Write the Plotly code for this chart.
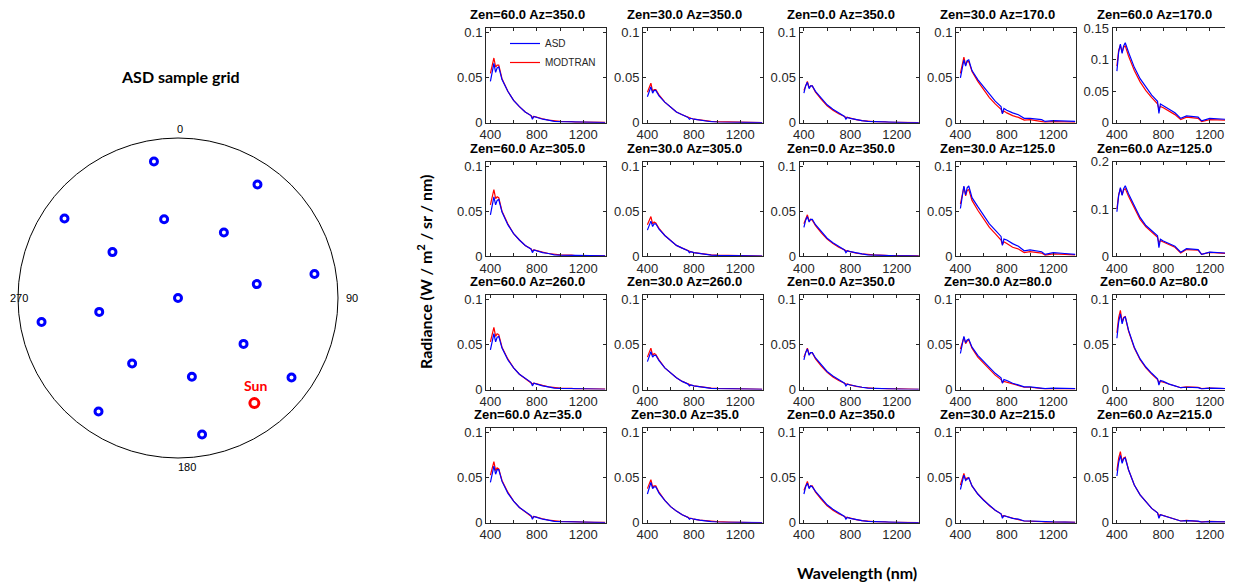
import numpy as np
import plotly.graph_objects as go

# ---------------- data ----------------
# ASD sample grid (zenith, azimuth in degrees)
grid_zen = [60, 60, 60, 30, 30, 30, 60, 30, 0, 30, 60, 30, 30, 30, 60, 60, 60]
grid_az = [350, 35, 305, 350, 35, 305, 80, 80, 350, 260, 260, 125, 215, 170, 125, 215, 170]
sun_zen = 54.3
sun_az = 144.0
compass_labels = ["0", "90", "180", "270"]

# wavelength grid (nm)
wl = [400, 415, 430, 445, 458, 472, 500, 550, 600, 650, 700, 750, 762, 775,
      800, 850, 900, 950, 1000, 1100, 1130, 1200, 1300, 1390]

# panel geometry labels (row-major, 4 rows x 5 columns)
panel_zen = [60, 30, 0, 30, 60,
             60, 30, 0, 30, 60,
             60, 30, 0, 30, 60,
             60, 30, 0, 30, 60]
panel_az = [350, 350, 350, 170, 170,
            305, 305, 350, 125, 125,
            260, 260, 350, 80, 80,
            35, 35, 350, 215, 215]
panel_ymax = [0.105, 0.105, 0.105, 0.105, 0.15,
              0.105, 0.105, 0.105, 0.105, 0.2,
              0.105, 0.105, 0.105, 0.105, 0.105,
              0.105, 0.105, 0.105, 0.105, 0.105]
yticks_01 = [0, 0.05, 0.1]
ylabels_01 = ["0", "0.05", "0.1"]
yticks_015 = [0, 0.05, 0.1, 0.15]
ylabels_015 = ["0", "0.05", "0.1", "0.15"]
yticks_02 = [0, 0.1, 0.2]
ylabels_02 = ["0", "0.1", "0.2"]
xticks = [400, 800, 1200]
xlabels = ["400", "800", "1200"]
xminor = [600, 1000]

# radiance spectra (W / m2 / sr / nm)
asd_60_350 = [0.046, 0.058, 0.066, 0.056, 0.061, 0.062, 0.048, 0.035, 0.025, 0.018, 0.012, 0.008, 0.004, 0.007, 0.006, 0.004, 0.003, 0.0015, 0.0012, 0.0009, 0.0004, 0.0006, 0.0004, 0.0003]
mod_60_350 = [0.055, 0.064, 0.072, 0.062, 0.064, 0.064, 0.049, 0.035, 0.025, 0.018, 0.012, 0.008, 0.006, 0.007, 0.006, 0.0045, 0.003, 0.002, 0.0015, 0.0012, 0.0008, 0.0008, 0.0005, 0.0004]
asd_30_350 = [0.029, 0.036, 0.040, 0.033, 0.036, 0.036, 0.030, 0.023, 0.017, 0.012, 0.009, 0.006, 0.004, 0.005, 0.004, 0.003, 0.002, 0.0012, 0.0009, 0.0006, 0.0003, 0.0004, 0.0003, 0.0002]
mod_30_350 = [0.034, 0.040, 0.044, 0.035, 0.037, 0.037, 0.031, 0.023, 0.017, 0.012, 0.009, 0.006, 0.005, 0.005, 0.004, 0.003, 0.0022, 0.0015, 0.0012, 0.0008, 0.0005, 0.0005, 0.0003, 0.0002]
asd_0_a = [0.033, 0.041, 0.045, 0.038, 0.041, 0.041, 0.035, 0.027, 0.020, 0.015, 0.011, 0.007, 0.004, 0.006, 0.005, 0.0035, 0.0025, 0.0015, 0.0012, 0.0008, 0.0004, 0.0005, 0.0003, 0.0002]
mod_0_a = [0.036, 0.042, 0.046, 0.039, 0.041, 0.041, 0.034, 0.026, 0.019, 0.014, 0.010, 0.007, 0.006, 0.006, 0.005, 0.0035, 0.0025, 0.0017, 0.0014, 0.0010, 0.0006, 0.0006, 0.0004, 0.0003]
asd_30_170 = [0.050, 0.062, 0.070, 0.063, 0.069, 0.070, 0.058, 0.048, 0.040, 0.031, 0.024, 0.018, 0.010, 0.016, 0.014, 0.011, 0.009, 0.005, 0.005, 0.0035, 0.0015, 0.0025, 0.002, 0.0015]
mod_30_170 = [0.055, 0.066, 0.073, 0.064, 0.068, 0.068, 0.057, 0.046, 0.037, 0.028, 0.021, 0.015, 0.011, 0.013, 0.011, 0.008, 0.006, 0.003, 0.0035, 0.002, 0.0008, 0.0013, 0.001, 0.0008]
asd_60_170 = [0.082, 0.112, 0.125, 0.110, 0.122, 0.127, 0.112, 0.088, 0.070, 0.056, 0.044, 0.034, 0.015, 0.030, 0.027, 0.021, 0.016, 0.007, 0.011, 0.009, 0.003, 0.007, 0.006, 0.005]
mod_60_170 = [0.090, 0.115, 0.123, 0.112, 0.120, 0.122, 0.106, 0.083, 0.065, 0.051, 0.040, 0.030, 0.022, 0.026, 0.024, 0.018, 0.013, 0.005, 0.009, 0.007, 0.002, 0.005, 0.005, 0.004]

asd_60_305 = [0.046, 0.058, 0.066, 0.057, 0.062, 0.063, 0.049, 0.035, 0.025, 0.018, 0.012, 0.008, 0.004, 0.007, 0.006, 0.004, 0.003, 0.0015, 0.0012, 0.0009, 0.0004, 0.0006, 0.0004, 0.0003]
mod_60_305 = [0.057, 0.066, 0.074, 0.064, 0.066, 0.065, 0.050, 0.036, 0.025, 0.018, 0.012, 0.008, 0.006, 0.007, 0.006, 0.0045, 0.003, 0.002, 0.0015, 0.0012, 0.0008, 0.0008, 0.0005, 0.0004]
asd_30_305 = [0.029, 0.035, 0.039, 0.033, 0.036, 0.036, 0.030, 0.023, 0.017, 0.012, 0.009, 0.006, 0.004, 0.005, 0.004, 0.003, 0.002, 0.0012, 0.0009, 0.0006, 0.0003, 0.0004, 0.0003, 0.0002]
mod_30_305 = [0.035, 0.040, 0.044, 0.036, 0.038, 0.037, 0.031, 0.023, 0.017, 0.012, 0.009, 0.006, 0.005, 0.005, 0.004, 0.003, 0.0022, 0.0015, 0.0012, 0.0008, 0.0005, 0.0005, 0.0003, 0.0002]
asd_0_b = [0.032, 0.040, 0.044, 0.038, 0.041, 0.041, 0.035, 0.027, 0.020, 0.015, 0.011, 0.007, 0.004, 0.006, 0.005, 0.0035, 0.0025, 0.0015, 0.0012, 0.0008, 0.0004, 0.0005, 0.0003, 0.0002]
mod_0_b = [0.036, 0.042, 0.046, 0.039, 0.041, 0.040, 0.034, 0.026, 0.019, 0.014, 0.010, 0.007, 0.006, 0.006, 0.005, 0.0035, 0.0025, 0.0017, 0.0014, 0.0010, 0.0006, 0.0006, 0.0004, 0.0003]
asd_30_125 = [0.053, 0.068, 0.078, 0.068, 0.076, 0.078, 0.065, 0.055, 0.046, 0.036, 0.029, 0.022, 0.012, 0.019, 0.018, 0.014, 0.011, 0.006, 0.007, 0.005, 0.002, 0.004, 0.003, 0.002]
mod_30_125 = [0.058, 0.070, 0.077, 0.067, 0.073, 0.074, 0.062, 0.051, 0.042, 0.032, 0.025, 0.018, 0.013, 0.016, 0.014, 0.010, 0.008, 0.004, 0.005, 0.0035, 0.0012, 0.0025, 0.002, 0.0015]
asd_60_125 = [0.094, 0.128, 0.145, 0.129, 0.143, 0.149, 0.132, 0.106, 0.082, 0.065, 0.053, 0.043, 0.018, 0.036, 0.032, 0.026, 0.021, 0.0085, 0.016, 0.014, 0.004, 0.0085, 0.007, 0.006]
mod_60_125 = [0.100, 0.130, 0.143, 0.130, 0.140, 0.143, 0.127, 0.102, 0.078, 0.062, 0.050, 0.040, 0.028, 0.033, 0.030, 0.024, 0.019, 0.007, 0.014, 0.013, 0.004, 0.008, 0.007, 0.005]

asd_60_260 = [0.044, 0.055, 0.062, 0.053, 0.058, 0.059, 0.046, 0.033, 0.024, 0.017, 0.012, 0.008, 0.004, 0.007, 0.006, 0.004, 0.003, 0.0015, 0.0012, 0.0009, 0.0004, 0.0006, 0.0004, 0.0003]
mod_60_260 = [0.053, 0.062, 0.069, 0.059, 0.062, 0.061, 0.047, 0.034, 0.024, 0.017, 0.012, 0.008, 0.006, 0.007, 0.006, 0.0045, 0.003, 0.002, 0.0015, 0.0012, 0.0008, 0.0008, 0.0005, 0.0004]
asd_30_260 = [0.031, 0.038, 0.042, 0.036, 0.038, 0.038, 0.032, 0.024, 0.018, 0.013, 0.009, 0.006, 0.004, 0.005, 0.004, 0.003, 0.002, 0.0013, 0.0009, 0.0006, 0.0003, 0.0004, 0.0003, 0.0002]
mod_30_260 = [0.036, 0.042, 0.046, 0.038, 0.040, 0.039, 0.033, 0.024, 0.018, 0.013, 0.009, 0.006, 0.005, 0.005, 0.004, 0.003, 0.0022, 0.0015, 0.0012, 0.0008, 0.0005, 0.0005, 0.0003, 0.0002]
asd_0_c = [0.033, 0.041, 0.045, 0.038, 0.041, 0.041, 0.035, 0.027, 0.020, 0.015, 0.011, 0.007, 0.004, 0.006, 0.005, 0.0035, 0.0025, 0.0015, 0.0012, 0.0008, 0.0004, 0.0005, 0.0003, 0.0002]
mod_0_c = [0.036, 0.042, 0.046, 0.039, 0.041, 0.041, 0.034, 0.026, 0.019, 0.014, 0.010, 0.007, 0.006, 0.006, 0.005, 0.0035, 0.0025, 0.0017, 0.0014, 0.0010, 0.0006, 0.0006, 0.0004, 0.0003]
asd_30_80 = [0.040, 0.052, 0.059, 0.052, 0.055, 0.056, 0.047, 0.038, 0.031, 0.024, 0.018, 0.013, 0.007, 0.011, 0.010, 0.007, 0.005, 0.003, 0.003, 0.002, 0.001, 0.0015, 0.0012, 0.001]
mod_30_80 = [0.045, 0.053, 0.058, 0.051, 0.054, 0.055, 0.046, 0.036, 0.029, 0.022, 0.016, 0.011, 0.008, 0.009, 0.008, 0.006, 0.004, 0.0025, 0.0025, 0.0015, 0.0007, 0.001, 0.0008, 0.0006]
asd_60_80 = [0.057, 0.075, 0.084, 0.073, 0.079, 0.081, 0.066, 0.047, 0.034, 0.025, 0.018, 0.012, 0.005, 0.010, 0.009, 0.006, 0.004, 0.002, 0.0025, 0.002, 0.0008, 0.0015, 0.0012, 0.001]
mod_60_80 = [0.063, 0.080, 0.088, 0.075, 0.080, 0.081, 0.065, 0.046, 0.033, 0.024, 0.017, 0.011, 0.008, 0.009, 0.008, 0.006, 0.004, 0.002, 0.003, 0.0025, 0.001, 0.0015, 0.001, 0.0008]

asd_60_35 = [0.045, 0.056, 0.063, 0.054, 0.059, 0.059, 0.046, 0.033, 0.024, 0.017, 0.012, 0.008, 0.004, 0.007, 0.006, 0.004, 0.003, 0.0015, 0.0012, 0.0009, 0.0004, 0.0006, 0.0004, 0.0003]
mod_60_35 = [0.053, 0.061, 0.068, 0.058, 0.061, 0.060, 0.047, 0.034, 0.024, 0.017, 0.012, 0.008, 0.006, 0.007, 0.006, 0.0045, 0.003, 0.002, 0.0016, 0.0013, 0.0009, 0.0008, 0.0005, 0.0004]
asd_30_35 = [0.032, 0.040, 0.045, 0.038, 0.040, 0.040, 0.033, 0.025, 0.018, 0.013, 0.009, 0.006, 0.004, 0.005, 0.004, 0.003, 0.002, 0.0013, 0.0009, 0.0006, 0.0003, 0.0004, 0.0003, 0.0002]
mod_30_35 = [0.038, 0.044, 0.048, 0.040, 0.041, 0.041, 0.034, 0.025, 0.018, 0.013, 0.009, 0.006, 0.005, 0.005, 0.004, 0.003, 0.0022, 0.0015, 0.0012, 0.0008, 0.0005, 0.0005, 0.0003, 0.0002]
asd_0_d = [0.032, 0.040, 0.044, 0.038, 0.041, 0.040, 0.035, 0.027, 0.020, 0.015, 0.011, 0.007, 0.004, 0.006, 0.005, 0.0035, 0.0025, 0.0015, 0.0012, 0.0008, 0.0004, 0.0005, 0.0003, 0.0002]
mod_0_d = [0.036, 0.042, 0.046, 0.039, 0.041, 0.041, 0.034, 0.026, 0.019, 0.014, 0.010, 0.007, 0.006, 0.006, 0.005, 0.0035, 0.0025, 0.0017, 0.0014, 0.0010, 0.0006, 0.0006, 0.0004, 0.0003]
asd_30_215 = [0.037, 0.047, 0.053, 0.047, 0.049, 0.050, 0.041, 0.032, 0.025, 0.019, 0.014, 0.010, 0.005, 0.008, 0.007, 0.005, 0.004, 0.002, 0.002, 0.0015, 0.0006, 0.001, 0.0008, 0.0006]
mod_30_215 = [0.042, 0.050, 0.055, 0.048, 0.050, 0.050, 0.041, 0.032, 0.025, 0.019, 0.014, 0.010, 0.007, 0.008, 0.007, 0.005, 0.0035, 0.002, 0.002, 0.0013, 0.0006, 0.0009, 0.0007, 0.0005]
asd_60_215 = [0.052, 0.067, 0.075, 0.066, 0.071, 0.072, 0.059, 0.042, 0.031, 0.023, 0.016, 0.011, 0.005, 0.009, 0.008, 0.006, 0.004, 0.002, 0.0025, 0.0018, 0.0007, 0.0012, 0.001, 0.0008]
mod_60_215 = [0.058, 0.072, 0.079, 0.068, 0.072, 0.073, 0.059, 0.042, 0.031, 0.023, 0.016, 0.011, 0.008, 0.009, 0.008, 0.006, 0.004, 0.002, 0.0028, 0.002, 0.001, 0.0015, 0.001, 0.0008]

panel_asd = [asd_60_350, asd_30_350, asd_0_a, asd_30_170, asd_60_170,
             asd_60_305, asd_30_305, asd_0_b, asd_30_125, asd_60_125,
             asd_60_260, asd_30_260, asd_0_c, asd_30_80, asd_60_80,
             asd_60_35, asd_30_35, asd_0_d, asd_30_215, asd_60_215]
panel_mod = [mod_60_350, mod_30_350, mod_0_a, mod_30_170, mod_60_170,
             mod_60_305, mod_30_305, mod_0_b, mod_30_125, mod_60_125,
             mod_60_260, mod_30_260, mod_0_c, mod_30_80, mod_60_80,
             mod_60_35, mod_30_35, mod_0_d, mod_30_215, mod_60_215]

# ---------------- figure ----------------
# the page body adds an 8 px margin, so the figure is drawn 8 px in from the window corner
OFF = 8
W, H = 1233 - OFF, 582 - OFF


def px(X):
    return (X - OFF) / W


def py(Y):
    return 1 - (Y - OFF) / H


BLUE = "#0000ff"
RED = "#ff0000"
AX = "#262626"
HELV = "Liberation Sans, Arial, sans-serif"
TICKFONT = dict(family=HELV, size=13, color=AX)
CAL = "Lato, Open Sans, sans-serif"

fig = go.Figure()

# polar sample grid
fig.add_trace(go.Scatterpolar(
    r=np.sin(np.radians(grid_zen)), theta=grid_az, mode="markers",
    marker=dict(symbol="circle-open", size=7, color=BLUE, line=dict(width=3, color=BLUE)),
    showlegend=False, subplot="polar", hoverinfo="skip"))
fig.add_trace(go.Scatterpolar(
    r=[np.sin(np.radians(sun_zen))], theta=[sun_az], mode="markers",
    marker=dict(symbol="circle-open", size=9, color=RED, line=dict(width=3, color=RED)),
    showlegend=False, subplot="polar", hoverinfo="skip"))

col_left = [486, 643, 799.5, 956, 1112.5]
col_w = 119.5
row_top = [28.3, 161.7, 295.0, 428.3]
row_h = 94.5

layout_axes = {}
annotations = []
for i in range(20):
    r, c = divmod(i, 5)
    n = i + 1
    xs = "x" if n == 1 else f"x{n}"
    ys = "y" if n == 1 else f"y{n}"
    xname = "xaxis" if n == 1 else f"xaxis{n}"
    yname = "yaxis" if n == 1 else f"yaxis{n}"
    x0 = px(col_left[c])
    x1 = px(col_left[c] + col_w)
    y1 = py(row_top[r])
    y0 = py(row_top[r] + row_h)
    fig.add_trace(go.Scatter(x=wl, y=panel_mod[i], mode="lines", line=dict(color=RED, width=1.2),
                             name="MODTRAN", xaxis=xs, yaxis=ys, showlegend=(i == 0), legendrank=2))
    fig.add_trace(go.Scatter(x=wl, y=panel_asd[i], mode="lines", line=dict(color=BLUE, width=1.2),
                             name="ASD", xaxis=xs, yaxis=ys, showlegend=(i == 0), legendrank=1))
    ymax = panel_ymax[i]
    if ymax == 0.15:
        yt, yl = yticks_015, ylabels_015
    elif ymax == 0.2:
        yt, yl = yticks_02, ylabels_02
    else:
        yt, yl = yticks_01, ylabels_01
    layout_axes[xname] = dict(domain=[x0, x1], anchor=ys, range=[362, 1392], tickvals=xticks, ticktext=xlabels,
                              ticks="inside", ticklen=3, tickcolor=AX, showline=True, linecolor=AX, linewidth=1,
                              minor=dict(tickvals=xminor, ticks="inside", ticklen=3, tickcolor=AX, showgrid=False),
                              mirror="ticks", showgrid=False, zeroline=False, tickfont=TICKFONT,
                              fixedrange=True, automargin=False)
    layout_axes[yname] = dict(domain=[y0, y1], anchor=xs, range=[0, ymax], tickvals=yt, ticktext=yl,
                              ticks="inside", ticklen=3, tickcolor=AX, showline=True, linecolor=AX, linewidth=1,
                              mirror="ticks", showgrid=False, zeroline=False, tickfont=TICKFONT,
                              fixedrange=True, automargin=False)
    annotations.append(dict(
        text=f"<b>Zen={panel_zen[i]:.1f} Az={panel_az[i]:.1f}</b>",
        x=(x0 + x1) / 2, y=y1, xref="paper", yref="paper", xanchor="center", yanchor="bottom",
        xshift=-18, yshift=4, showarrow=False, font=dict(family=HELV, size=13, color="black")))

# compass labels around the sample-grid circle
compass_xy = [(180, 129), (352, 298), (187, 467), (19, 298)]
for lab, (cx, cy) in zip(compass_labels, compass_xy):
    annotations.append(dict(text=lab, x=px(cx), y=py(cy), xref="paper", yref="paper",
                            xanchor="center", yanchor="middle", showarrow=False,
                            font=dict(family=HELV, size=11, color="black")))

annotations += [
    dict(text="<b>ASD sample grid</b>", x=px(180), y=py(76), xref="paper", yref="paper",
         xanchor="center", yanchor="middle", showarrow=False, font=dict(family=CAL, size=16, color="black")),
    dict(text="<b>Sun</b>", x=px(255), y=py(385), xref="paper", yref="paper",
         xanchor="center", yanchor="middle", showarrow=False, font=dict(family=CAL, size=14, color=RED)),
    dict(text="<b>Wavelength (nm)</b>", x=px(857), y=py(572), xref="paper", yref="paper",
         xanchor="center", yanchor="middle", showarrow=False, font=dict(family=CAL, size=16, color="black")),
    dict(text="<b>Radiance (W / m<sup>2</sup> / sr / nm)</b>", x=px(424), y=py(272), xref="paper", yref="paper",
         xanchor="center", yanchor="middle", textangle=-90, showarrow=False,
         font=dict(family=CAL, size=16, color="black")),
]

fig.update_layout(
    width=W, height=H, margin=dict(l=0, r=0, t=0, b=0, pad=0, autoexpand=False),
    paper_bgcolor="white", plot_bgcolor="white",
    polar=dict(
        domain=dict(x=[px(18), px(338)], y=[py(458), py(138)]),
        bgcolor="white",
        radialaxis=dict(visible=False, range=[0, 1]),
        angularaxis=dict(rotation=90, direction="clockwise", showticklabels=False,
                         showgrid=False, ticks="",
                         showline=True, linecolor="black", linewidth=1),
    ),
    legend=dict(x=px(505), y=py(29), xanchor="left", yanchor="top", bgcolor="rgba(0,0,0,0)",
                font=dict(family=HELV, size=10, color=AX),
                itemwidth=30, tracegroupgap=0),
    annotations=annotations,
    showlegend=True,
    **layout_axes,
)

fig.write_html("out.html")
